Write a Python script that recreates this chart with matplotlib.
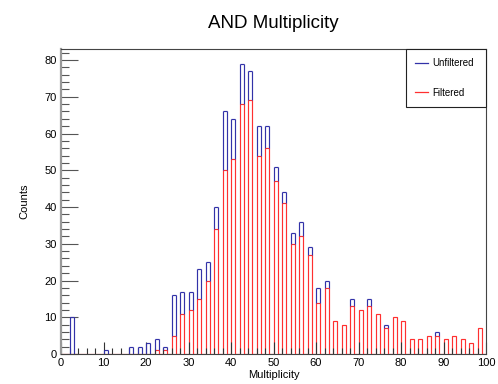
import numpy as np
import matplotlib
matplotlib.use("Agg")
import matplotlib.pyplot as plt
from matplotlib.lines import Line2D
from matplotlib.ticker import MultipleLocator

plt.rcParams['font.family'] = ['Liberation Sans', 'DejaVu Sans']

# multiplicity values (only even values are populated), bins of width 1
multiplicity = list(range(0, 100, 2))
unfiltered = [0, 10, 0, 0, 0, 1, 0, 0, 2, 2,
              3, 4, 2, 16, 17, 17, 23, 25, 40, 66,
              64, 79, 77, 62, 62, 51, 44, 33, 36, 29,
              18, 20, 9, 8, 15, 12, 15, 11, 8, 10,
              9, 4, 4, 5, 6, 4, 5, 4, 3, 7]
filtered = [0, 0, 0, 0, 0, 0, 0, 0, 0, 0,
            0, 1, 1, 5, 11, 12, 15, 20, 34, 50,
            53, 68, 69, 54, 56, 47, 41, 30, 32, 27,
            14, 18, 9, 8, 13, 12, 13, 11, 7, 10,
            9, 4, 4, 5, 5, 4, 5, 4, 3, 7]

edges = np.arange(0, 101, 1)
h_fil = np.zeros(100)
for m, f in zip(multiplicity, filtered):
    h_fil[m] = f

blue = '#3232a8'
red = '#ff3030'

fig = plt.figure(figsize=(4.98, 3.84), dpi=100)
ax = fig.add_axes([61 / 498, 30 / 384, 425 / 498, 305 / 384])

# unfiltered outline: only the part sticking out above the filtered bars
m = np.array(multiplicity, dtype=float)
u = np.array(unfiltered, dtype=float)
f = np.array(filtered, dtype=float)
sel = u > f
ax.hlines(u[sel], m[sel], m[sel] + 1, color=blue, linewidth=0.85)
ax.vlines(m[sel], f[sel], u[sel], color=blue, linewidth=0.85)
ax.vlines(m[sel] + 1, f[sel], u[sel], color=blue, linewidth=0.85)

ax.stairs(h_fil, edges, color=red, linewidth=0.85)

ax.set_xlim(0, 100)
ax.set_ylim(0, 83)
ax.xaxis.set_major_locator(MultipleLocator(10))
ax.xaxis.set_minor_locator(MultipleLocator(2))
ax.yaxis.set_major_locator(MultipleLocator(10))
ax.yaxis.set_minor_locator(MultipleLocator(2))
ax.tick_params(axis='x', which='major', direction='in', length=9, width=0.8,
               color='#333333', labelsize=8, pad=3, top=False)
ax.tick_params(axis='x', which='minor', direction='in', length=4.5, width=0.8,
               color='#333333', top=False)
ax.tick_params(axis='y', which='major', direction='in', length=12, width=0.8,
               color='#555555', labelsize=8, pad=3, right=False)
ax.tick_params(axis='y', which='minor', direction='in', length=6, width=0.8,
               color='#555555', right=False)

for side in ['top', 'right']:
    ax.spines[side].set_color('#444444')
    ax.spines[side].set_linewidth(0.8)
ax.spines['left'].set_color('#999999')
ax.spines['left'].set_linewidth(1.6)
ax.spines['bottom'].set_color('#444444')
ax.spines['bottom'].set_linewidth(0.8)

ax.set_xlabel('Multiplicity', fontsize=8, labelpad=1)
ax.set_ylabel('Counts', fontsize=8, labelpad=11)
fig.text(273 / 498, 1 - 24 / 384, 'AND Multiplicity', fontsize=13.5,
         ha='center', va='center')

handles = [Line2D([], [], color=blue, linewidth=0.9),
           Line2D([], [], color=red, linewidth=0.9)]
leg = ax.legend(handles, ['Unfiltered', 'Filtered'], fontsize=7,
                loc='upper left', bbox_to_anchor=(0.812, 1.0, 0.188, 0.0),
                mode='expand', borderaxespad=0, fancybox=False,
                framealpha=1, edgecolor='#222222', handlelength=1.3,
                handletextpad=0.4, labelspacing=2.0, borderpad=0.95)
leg.get_frame().set_linewidth(0.8)

fig.savefig('out.png', dpi=100)
